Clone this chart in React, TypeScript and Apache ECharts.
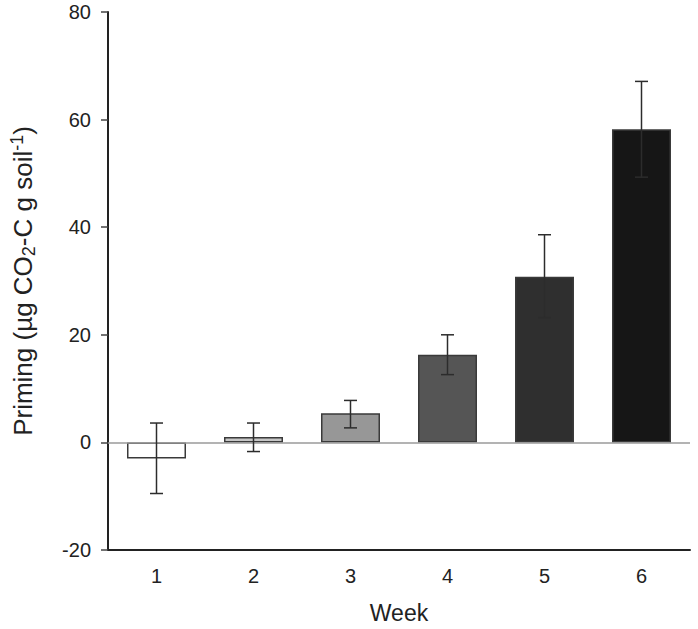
import React, { useEffect, useRef } from "react";
import * as echarts from "echarts";

const weeks = ["1", "2", "3", "4", "5", "6"];
const priming = [-3.0, 1.0, 5.4, 16.3, 30.8, 58.2];
const errLow = [-9.5, -1.7, 2.7, 12.6, 23.2, 49.3];
const errHigh = [3.6, 3.6, 7.8, 20.0, 38.6, 67.1];
const barColors = ["#ffffff", "#c6c6c6", "#979797", "#555555", "#2f2f2f", "#161616"];
const yTicks = [-20, 0, 20, 40, 60, 80];

export default function App() {
  const ref = useRef<HTMLDivElement>(null);
  useEffect(() => {
    if (!ref.current) return;
    const chart = echarts.init(ref.current, undefined, { renderer: "svg" });
    const font = "Liberation Sans, Arial, sans-serif";
    chart.setOption({
      animation: false,
      grid: { left: 107, right: 8, top: 12, bottom: 76, containLabel: false },
      xAxis: {
        type: "category",
        data: weeks,
        name: "Week",
        nameLocation: "middle",
        nameGap: 51,
        nameTextStyle: { fontFamily: font, fontSize: 23, color: "#222" },
        axisLine: { onZero: false, lineStyle: { color: "#222", width: 2 } },
        axisTick: { alignWithLabel: true, length: 5, lineStyle: { color: "#444", width: 1.5 } },
        axisLabel: { fontFamily: font, fontSize: 20, color: "#222", margin: 16 },
      },
      yAxis: {
        type: "value",
        min: yTicks[0],
        max: yTicks[yTicks.length - 1],
        interval: 20,
        name: "{a|Priming (µg CO}{sub|2}{a|-C g soil}{sup|-1}{a|)}",
        nameLocation: "middle",
        nameGap: 70,
        nameTextStyle: {
          fontFamily: font,
          fontSize: 26,
          color: "#222",
          rich: {
            a: { fontFamily: font, fontSize: 26, color: "#222", lineHeight: 30 },
            sub: { fontFamily: font, fontSize: 18, color: "#222", lineHeight: 12, verticalAlign: "bottom" },
            sup: { fontFamily: font, fontSize: 18, color: "#222", lineHeight: 14, verticalAlign: "top" },
          },
        },
        splitLine: { show: false },
        axisLine: { show: true, lineStyle: { color: "#222", width: 2 } },
        axisTick: { show: true, length: 7, lineStyle: { color: "#444", width: 1.5 } },
        axisLabel: { fontFamily: font, fontSize: 20, color: "#222", margin: 17 },
      },
      series: [
        {
          type: "bar",
          data: priming.map((v, i) => ({
            value: v,
            itemStyle: { color: barColors[i], borderColor: "#3a3a3a", borderWidth: 1.5 },
          })),
          barWidth: 59,
          markLine: {
            silent: true,
            symbol: "none",
            label: { show: false },
            lineStyle: { color: "#9a9a9a", width: 1.5, type: "solid" },
            data: [{ yAxis: 0 }],
          },
        },
        {
          type: "custom",
          data: weeks.map((_, i) => [i, errLow[i], errHigh[i]]),
          renderItem: (params: any, api: any) => {
            const x = api.value(0);
            const lo = api.coord([x, api.value(1)]);
            const hi = api.coord([x, api.value(2)]);
            const cap = 6.5;
            const style = { stroke: "#2c2c2c", lineWidth: 1.5 };
            return {
              type: "group",
              children: [
                { type: "line", shape: { x1: lo[0], y1: lo[1], x2: hi[0], y2: hi[1] }, style },
                { type: "line", shape: { x1: hi[0] - cap, y1: hi[1], x2: hi[0] + cap, y2: hi[1] }, style },
                { type: "line", shape: { x1: lo[0] - cap, y1: lo[1], x2: lo[0] + cap, y2: lo[1] }, style },
              ],
            };
          },
          z: 5,
        },
      ],
    });
    return () => chart.dispose();
  }, []);
  return <div ref={ref} style={{ width: 698, height: 629, position: "absolute", left: 0, top: 0 }} />;
}
